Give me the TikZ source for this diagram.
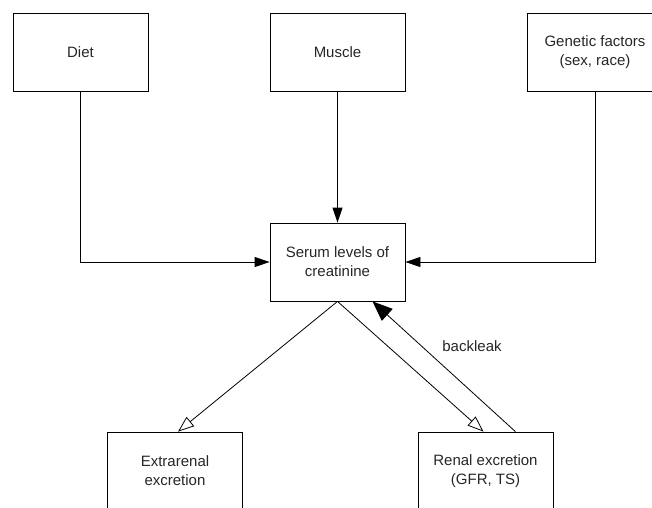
\documentclass[tikz,border=0pt]{standalone}
\usepackage{fontspec}
\setmainfont{Liberation Sans}
\usetikzlibrary{arrows.meta,calc}
\begin{document}
\begin{tikzpicture}[x=1pt,y=-1pt,
  box/.style={draw,line width=0.8pt,rectangle,minimum width=135pt,minimum height=78pt,
    align=center,inner sep=0pt,font=\fontsize{15}{19}\selectfont,text=black!85},
  feed/.style={line width=0.8pt,-{Triangle[length=15pt,width=10pt]}},
  outarrow/.style={line width=0.8pt,-{Triangle[open,length=16pt,width=12pt]}},
  backarrow/.style={line width=0.8pt,-{Triangle[length=20pt,width=16pt]}}]
\clip (0,0) rectangle (652,507);
\node[box] (diet) at (80.5,52) {Diet};
\node[box] (muscle) at (337.5,52) {Muscle};
\node[box] (gen) at (595,52) {Genetic factors\\(sex, race)};
\node[box] (serum) at (337.5,262) {Serum levels of\\creatinine};
\node[box] (ext) at (175,471) {Extrarenal\\excretion};
\node[box] (ren) at (485.5,471) {Renal excretion\\(GFR, TS)};
\draw[feed] (diet.south) |- (serum.west);
\draw[feed] (gen.south) |- (serum.east);
\draw[feed] (muscle.south) -- (serum.north);
\draw[outarrow] (serum.south) -- ([xshift=3pt]ext.north);
\draw[outarrow] (serum.south) -- ([xshift=-2pt]ren.north);
\draw[backarrow] ([xshift=-38pt]ren.north east) -- ([xshift=35pt]serum.south);
\node[font=\fontsize{15}{19}\selectfont,text=black!85] (bl) at (472,346) {backleak};
\end{tikzpicture}
\end{document}
